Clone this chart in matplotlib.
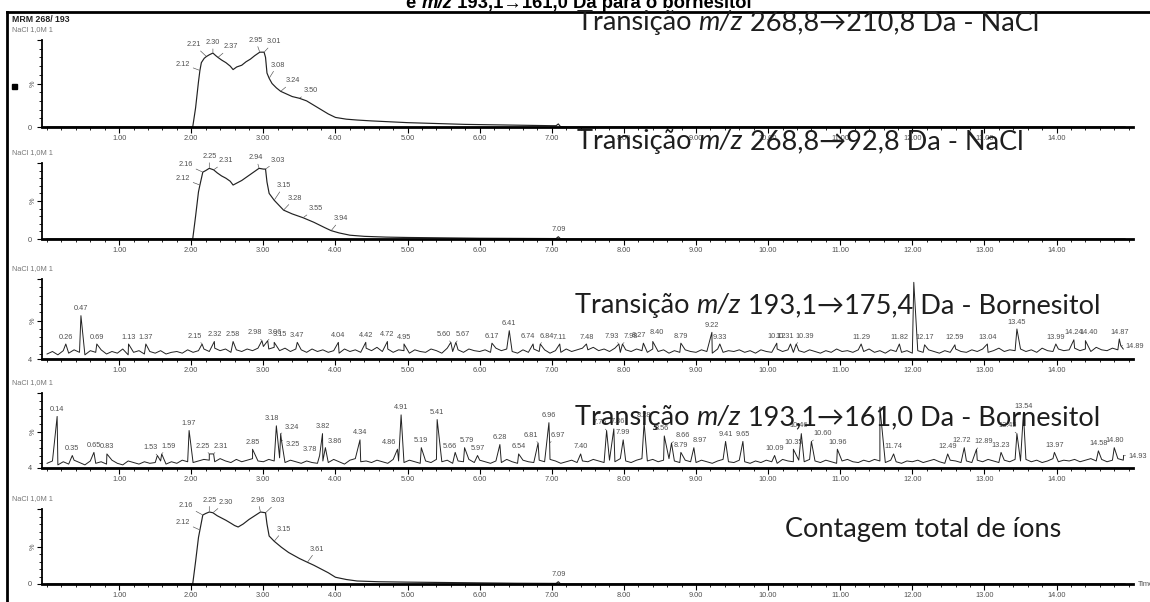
import numpy as np
import matplotlib
matplotlib.use("Agg")
import matplotlib.pyplot as plt
from matplotlib.ticker import FixedLocator, MultipleLocator
from matplotlib.patches import Rectangle
from matplotlib.lines import Line2D

W, H, DPI = 1150, 602, 100

# ---------------- chromatogram data (time in min, intensity in %) ----------------
# MRM 268.8 -> 210.8 (NaCl)
nacl210_time = [0.00, 2.02, 2.06, 2.10, 2.12, 2.14, 2.18, 2.21, 2.25, 2.30, 2.34, 2.37,
                2.42, 2.48, 2.54, 2.58, 2.63, 2.70, 2.76, 2.82, 2.88, 2.95, 3.01, 3.03,
                3.05, 3.08, 3.12, 3.18, 3.24, 3.32, 3.40, 3.50, 3.60, 3.70, 3.80, 3.90,
                4.00, 4.15, 4.30, 4.50, 4.75, 5.00, 5.40, 5.80, 6.20, 6.60, 7.00, 7.06,
                7.09, 7.12, 7.20, 14.95]
nacl210_int = [0, 0, 22, 52, 65, 74, 79, 81, 83, 85, 82, 80,
               77, 74, 70, 66, 69, 71, 75, 78, 82, 86, 86, 80,
               62, 56, 50, 45, 41, 38, 35, 33, 30, 25, 20, 15,
               11, 9, 8, 7, 6, 5, 4, 3, 2.5, 2, 1.5, 1.5,
               3.5, 0.5, 0, 0]
nacl210_labels = ["2.12", "2.21", "2.30", "2.37", "2.95", "3.01", "3.08", "3.24", "3.50"]

# MRM 268.8 -> 92.8 (NaCl)
nacl92_time = [0.00, 2.02, 2.06, 2.10, 2.12, 2.16, 2.20, 2.25, 2.31, 2.36, 2.42, 2.48,
               2.54, 2.58, 2.64, 2.70, 2.76, 2.82, 2.88, 2.94, 3.00, 3.03, 3.05, 3.08,
               3.15, 3.22, 3.28, 3.40, 3.55, 3.70, 3.85, 3.94, 4.05, 4.20, 4.40, 4.70,
               5.00, 5.50, 6.00, 6.50, 7.00, 7.06, 7.09, 7.12, 7.20, 14.95]
nacl92_int = [0, 0, 30, 62, 71, 88, 90, 93, 91, 87, 83, 80,
              76, 71, 74, 77, 81, 85, 89, 93, 92, 92, 75, 60,
              51, 44, 38, 33, 28, 22, 15, 11, 8, 5, 3.5, 2.5,
              2, 1.5, 1, 0.8, 0.6, 0.6, 3, 0.3, 0, 0]
nacl92_labels = ["2.12", "2.16", "2.25", "2.31", "2.94", "3.03", "3.15", "3.28", "3.55", "3.94", "7.09"]

# Total ion count
tic_time = [0.00, 2.02, 2.06, 2.10, 2.12, 2.16, 2.20, 2.25, 2.30, 2.36, 2.42, 2.48,
            2.55, 2.60, 2.65, 2.72, 2.80, 2.88, 2.96, 3.03, 3.05, 3.08, 3.15, 3.25,
            3.35, 3.50, 3.61, 3.70, 3.80, 3.90, 4.00, 4.15, 4.30, 4.60, 5.00, 5.50,
            6.00, 6.50, 7.00, 7.06, 7.09, 7.12, 7.20, 14.95]
tic_int = [0, 0, 30, 62, 72, 92, 94, 96, 95, 91, 88, 85,
           81, 78, 76, 80, 86, 91, 96, 95, 80, 64, 57, 49,
           42, 34, 29, 25, 20, 15, 9, 6, 4, 3, 2.5, 2,
           1.5, 1, 0.8, 0.8, 3, 0.3, 0, 0]
tic_labels = ["2.12", "2.16", "2.25", "2.30", "2.96", "3.03", "3.15", "3.61", "7.09"]

# Bornesitol transitions: baseline scans (one every 0.075 min) + labelled peaks
scan_step = 0.075
born175_noise = [
    10, 13, 9, 14, 11, 15, 12, 9, 14, 12,
    15, 10, 13, 11, 16, 9, 12, 14, 10, 13,
    11, 14, 10, 12, 13, 11, 15, 12, 14, 16,
    13, 17, 14, 16, 12, 15, 13, 16, 14, 17,
    19, 16, 18, 14, 17, 13, 16, 15, 12, 16,
    13, 15, 12, 14, 11, 16, 13, 15, 12, 17,
    14, 18, 13, 16, 12, 15, 14, 11, 15, 13,
    12, 16, 14, 11, 17, 13, 15, 12, 16, 14,
    13, 15, 12, 17, 14, 16, 13, 11, 15, 12,
    16, 13, 15, 11, 14, 12, 16, 13, 15, 17,
    15, 18, 14, 16, 13, 17, 12, 15, 13, 16,
    14, 12, 16, 13, 15, 11, 14, 12, 15, 13,
    12, 15, 13, 11, 16, 12, 14, 13, 15, 12,
    14, 11, 15, 13, 12, 16, 13, 15, 12, 14,
    12, 15, 13, 11, 14, 12, 16, 13, 14, 12,
    15, 13, 16, 12, 14, 11, 15, 13, 12, 14,
    11, 14, 12, 15, 13, 11, 14, 12, 16, 13,
    12, 15, 13, 16, 12, 14, 17, 13, 15, 14,
    16, 13, 15, 12, 17, 14, 13, 16, 14, 15,
    17, 14, 16, 13, 18, 15, 14, 17, 15, 16]
born175_peak_time = [0.26, 0.47, 0.69, 1.13, 1.37, 2.15, 2.32, 2.58, 2.98, 3.06,
                     3.15, 3.47, 4.04, 4.42, 4.72, 4.95, 5.60, 5.67, 6.17, 6.41,
                     6.74, 6.84, 7.11, 7.48, 7.93, 7.98, 8.27, 8.40, 8.79, 9.22,
                     9.33, 10.12, 10.31, 10.39, 11.29, 11.82, 12.02, 12.17, 12.59, 13.04,
                     13.45, 13.99, 14.24, 14.40, 14.87, 14.89]
born175_peak_int = [22, 56, 22, 22, 22, 22, 25, 25, 26, 26,
                    24, 24, 24, 24, 25, 22, 24, 24, 23, 38,
                    22, 22, 22, 22, 22, 22, 23, 25, 23, 36,
                    22, 23, 22, 22, 22, 22, 96, 21, 21, 22,
                    40, 22, 27, 26, 28, 20]
born175_unlabelled = [12.02]

born161_noise = [
    10, 13, 8, 12, 9, 14, 11, 8, 13, 10,
    12, 9, 14, 10, 8, 13, 11, 9, 12, 10,
    11, 13, 9, 12, 10, 14, 12, 11, 13, 15,
    14, 12, 16, 13, 11, 15, 12, 14, 16, 13,
    12, 15, 13, 17, 11, 14, 12, 10, 13, 11,
    10, 13, 11, 15, 12, 9, 14, 16, 12, 13,
    11, 14, 12, 10, 15, 13, 11, 14, 12, 10,
    13, 11, 15, 12, 14, 10, 13, 12, 15, 11,
    14, 12, 10, 13, 11, 15, 12, 10, 14, 12,
    11, 14, 12, 15, 13, 10, 12, 14, 11, 13,
    12, 15, 13, 11, 14, 12, 16, 13, 11, 14,
    16, 13, 15, 12, 14, 16, 13, 11, 14, 12,
    11, 14, 12, 10, 13, 15, 12, 11, 14, 12,
    10, 13, 11, 14, 12, 10, 15, 13, 12, 14,
    12, 15, 13, 11, 14, 12, 10, 13, 15, 12,
    11, 14, 12, 15, 13, 11, 14, 12, 10, 13,
    12, 14, 11, 13, 15, 12, 10, 14, 13, 11,
    13, 11, 14, 12, 15, 13, 11, 14, 12, 15,
    13, 15, 12, 14, 11, 13, 16, 12, 14, 13,
    15, 12, 14, 16, 13, 15, 12, 14, 16, 14]
born161_peak_time = [0.14, 0.35, 0.65, 0.83, 1.53, 1.59, 1.97, 2.25, 2.31, 2.85,
                     3.18, 3.24, 3.25, 3.78, 3.82, 3.86, 4.34, 4.86, 4.91, 5.19,
                     5.41, 5.66, 5.79, 5.97, 6.28, 6.54, 6.81, 6.96, 6.97, 7.40,
                     7.76, 7.86, 7.99, 8.28, 8.56, 8.66, 8.79, 8.97, 9.41, 9.65,
                     10.09, 10.35, 10.46, 10.60, 10.96, 11.55, 11.74, 12.49, 12.72, 12.89,
                     13.23, 13.45, 13.54, 13.97, 14.58, 14.80, 14.93]
born161_peak_int = [70, 20, 24, 22, 20, 22, 52, 22, 22, 28,
                    58, 48, 40, 20, 48, 30, 40, 28, 72, 30,
                    66, 24, 30, 20, 34, 22, 36, 62, 36, 22,
                    52, 54, 40, 62, 45, 36, 24, 30, 38, 38,
                    20, 28, 48, 38, 28, 82, 22, 22, 30, 28,
                    24, 48, 74, 24, 26, 30, 20]
born161_unlabelled = [11.55]

# ---------------- label placement (offsets in points) ----------------
nacl210_offsets = {"2.12": (-12, 2), "2.21": (-9, 6), "2.30": (0, 5), "2.37": (9, 5),
                   "2.95": (-3, 6), "3.01": (7, 5), "3.08": (6, 7), "3.24": (9, 5),
                   "3.50": (8, 3)}
nacl92_offsets = {"2.12": (-12, 2), "2.16": (-12, 3), "2.25": (0, 6), "2.31": (9, 4),
                  "2.94": (-2, 5), "3.03": (9, 4), "3.15": (7, 8), "3.28": (8, 6),
                  "3.55": (9, 4), "3.94": (7, 6), "7.09": (0, 3)}
tic_offsets = {"2.12": (-12, 3), "2.16": (-12, 4), "2.25": (0, 6), "2.30": (9, 5),
               "2.96": (-2, 6), "3.03": (9, 6), "3.15": (7, 6), "3.61": (7, 7),
               "7.09": (0, 3)}
born175_offsets = {"2.15": (-5, 3), "2.98": (-5, 3), "3.06": (5, 3), "3.15": (4, 3),
                   "5.60": (-5, 3), "5.67": (5, 3), "6.74": (-4, 3), "6.84": (5, 3),
                   "7.93": (-5, 3), "7.98": (6, 3), "8.27": (-3, 3), "8.40": (3, 4),
                   "10.31": (-4, 3), "10.39": (6, 3), "14.40": (2, 3), "14.89": (10, -3)}
born161_offsets = {"1.53": (-5, 3), "1.59": (5, 3), "2.25": (-5, 3), "2.31": (5, 3),
                   "3.18": (-3, 3), "3.24": (8, 2), "3.25": (8, -6), "3.78": (-7, 2),
                   "3.86": (7, 2), "4.86": (-6, 2), "5.66": (-4, 2), "5.79": (2, 3),
                   "6.81": (-5, 3), "6.97": (6, 3), "7.76": (-5, 3), "7.86": (3, 3),
                   "8.56": (-2, 3), "8.66": (8, 3), "8.97": (4, 3), "10.46": (-2, 3),
                   "10.60": (8, 3), "12.72": (-2, 3), "12.89": (5, 3), "13.45": (-7, 3),
                   "14.93": (10, -3)}

# ---------------- styling ----------------
plt.rcParams["font.family"] = ["Liberation Sans", "DejaVu Sans"]
LABEL_FS = 5.3
GREY = "#505050"
TRACE = "#222222"
TITLE_FONT = ["Lato", "DejaVu Sans"]

fig = plt.figure(figsize=(W / DPI, H / DPI), dpi=DPI)

# panel rectangles: (top pixel, x-axis pixel)
panels = [(40, 127), (163, 239), (279, 359), (393, 468), (509, 584)]
X_LEFT, X_RIGHT = 42, 1133
T_MIN, T_MAX = -0.07, 15.06


def make_axes(top, bottom, ymin):
    ax = fig.add_axes([X_LEFT / W, 1 - bottom / H, (X_RIGHT - X_LEFT) / W, (bottom - top) / H])
    ax.set_xlim(T_MIN, T_MAX)
    ax.set_ylim(ymin, 100)
    ax.patch.set_alpha(0)
    for s in ("top", "right"):
        ax.spines[s].set_visible(False)
    ax.spines["bottom"].set_linewidth(2.0)
    ax.spines["left"].set_linewidth(1.3)
    majors = [1, 2, 3, 4, 5, 6, 7, 8, 9, 10, 11, 12, 13, 14]
    ax.xaxis.set_major_locator(FixedLocator(majors))
    ax.set_xticklabels([f"{m:.2f}" for m in majors])
    ax.xaxis.set_minor_locator(MultipleLocator(0.2))
    ax.yaxis.set_major_locator(FixedLocator([ymin, 50, 100]))
    ax.set_yticklabels([str(ymin), "", ""])
    ax.yaxis.set_minor_locator(MultipleLocator(10))
    ax.tick_params(axis="x", which="major", length=4, width=0.8, pad=2,
                   labelsize=LABEL_FS, labelcolor=GREY)
    ax.tick_params(axis="x", which="minor", length=2.2, width=0.6)
    ax.tick_params(axis="y", which="major", length=3.5, width=0.8, pad=4,
                   labelsize=LABEL_FS, labelcolor=GREY)
    ax.tick_params(axis="y", which="minor", length=2, width=0.6)
    ax.annotate("%", xy=(0, 50), xycoords=("axes fraction", "data"),
                xytext=(-6.5, 0), textcoords="offset points", rotation=90,
                ha="center", va="center", fontsize=LABEL_FS, color=GREY)
    return ax


def label_peak(ax, t, y, text, offset):
    dx, dy = offset
    leader = abs(dx) >= 5 or dy >= 5
    ax.annotate(text, xy=(t, y), xytext=(dx, dy), textcoords="offset points",
                ha="center", va="bottom", fontsize=LABEL_FS, color=GREY,
                annotation_clip=False,
                arrowprops=dict(arrowstyle="-", lw=0.45, color=GREY,
                                shrinkA=0, shrinkB=0.5) if leader else None)


def smooth_panel(idx, times, values, labels, offsets):
    top, bottom = panels[idx]
    ax = make_axes(top, bottom, 0)
    ax.plot(times, values, color=TRACE, lw=0.85, clip_on=False)
    for lab in labels:
        t = float(lab)
        y = np.interp(t, times, values)
        label_peak(ax, t, y, lab, offsets.get(lab, (0, 3)))
    return ax


def noisy_panel(idx, noise, peak_t, peak_y, unlabelled, offsets):
    top, bottom = panels[idx]
    ax = make_axes(top, bottom, 4)
    scan_t = np.arange(len(noise)) * scan_step
    t = np.concatenate([scan_t, peak_t])
    y = np.concatenate([noise, peak_y])
    order = np.argsort(t, kind="stable")
    ax.plot(t[order], y[order], color=TRACE, lw=0.7, clip_on=False)
    for pt, py in zip(peak_t, peak_y):
        if pt in unlabelled:
            continue
        lab = f"{pt:.2f}"
        label_peak(ax, pt, py, lab, offsets.get(lab, (0, 2.5)))
    return ax


smooth_panel(0, nacl210_time, nacl210_int, nacl210_labels, nacl210_offsets)
smooth_panel(1, nacl92_time, nacl92_int, nacl92_labels, nacl92_offsets)
noisy_panel(2, born175_noise, born175_peak_time, born175_peak_int, born175_unlabelled, born175_offsets)
noisy_panel(3, born161_noise, born161_peak_time, born161_peak_int, born161_unlabelled, born161_offsets)
smooth_panel(4, tic_time, tic_int, tic_labels, tic_offsets)

# ---------------- overlay in pixel coordinates ----------------
ov = fig.add_axes([0, 0, 1, 1], zorder=5)
ov.set_xlim(0, W)
ov.set_ylim(H, 0)
ov.axis("off")
ov.patch.set_alpha(0)

# frame lines
ov.add_line(Line2D([7, W], [12, 12], color="black", lw=2.0))
ov.add_line(Line2D([7, 7], [12, H], color="black", lw=2.0))

ov.text(12, 20, "MRM 268/ 193", fontsize=6.3, fontweight="bold", color="#222", va="center")
for top, _ in panels:
    ov.text(12, top - 10, "NaCl 1,0M 1", fontsize=LABEL_FS, color="#777", va="center")
ov.add_patch(Rectangle((12, 84), 4.5, 4.5, color="black"))
ov.text(1138, 585, "Time", fontsize=LABEL_FS, color=GREY, va="center", clip_on=False)


def chained(x, y, pieces, size, family, weight="normal", color="#1e1e1e"):
    prev = None
    for s, style in pieces:
        kw = dict(fontsize=size, family=family, style=style, weight=weight,
                  color=color, annotation_clip=False)
        if prev is None:
            prev = ov.annotate(s, xy=(x, y), xycoords="data", ha="left", va="baseline", **kw)
        else:
            prev = ov.annotate(s, xy=(1, 0), xycoords=prev, ha="left", va="bottom", **kw)


# clipped heading at the very top
chained(406, 8, [("e ", "normal"), ("m/z", "italic"),
                 (" 193,1→161,0 Da para o bornesitol", "normal")],
        13.3, ["Liberation Sans", "DejaVu Sans"], weight="bold", color="black")

TS = 19.5
chained(577, 30, [("Transição ", "normal"), ("m/z", "italic"),
                  (" 268,8→210,8 Da - NaCl", "normal")], TS, TITLE_FONT)
chained(577, 149, [("Transição ", "normal"), ("m/z", "italic"),
                   (" 268,8→92,8 Da - NaCl", "normal")], TS, TITLE_FONT)
chained(575, 313, [("Transição ", "normal"), ("m/z", "italic"),
                   (" 193,1→175,4 Da - Bornesitol", "normal")], TS, TITLE_FONT)
chained(575, 425, [("Transição ", "normal"), ("m/z", "italic"),
                   (" 193,1→161,0 Da - Bornesitol", "normal")], TS, TITLE_FONT)
chained(785, 537, [("Contagem total de íons", "normal")], TS, TITLE_FONT)

fig.savefig("out.png", dpi=DPI)
